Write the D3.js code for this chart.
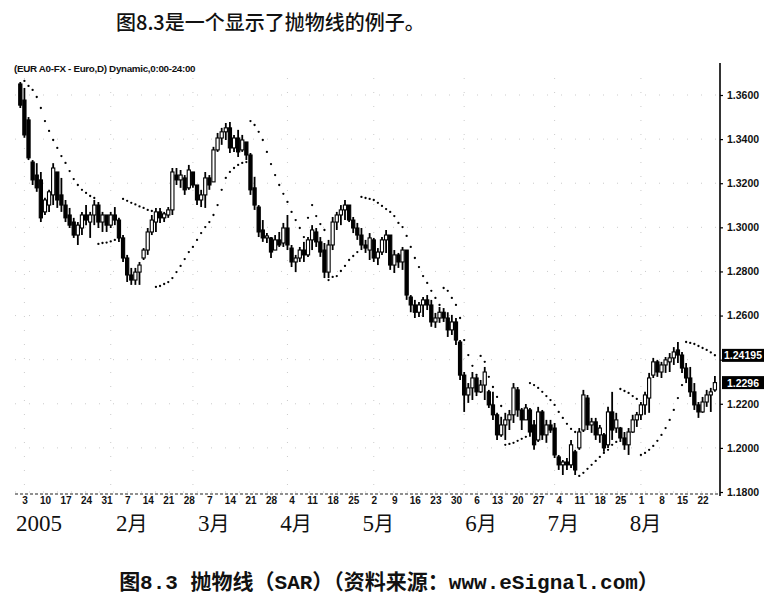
<!DOCTYPE html>
<html><head><meta charset="utf-8">
<script src="https://cdn.jsdelivr.net/npm/d3@7"></script>
<style>body{margin:0;background:#fff}</style>
</head><body><svg id="c" width="781" height="606"></svg>
<script>
// ---------------- data ----------------
const startDate = "2004-12-31";
const high = [1.3659,1.3632,1.3500,1.3305,1.3291,1.3251,1.3134,1.3170,1.3291,1.3251,
1.3224,1.3124,1.3088,1.3043,1.3024,1.3070,1.3101,1.3070,1.3124,1.3115,
1.3070,1.3056,1.3070,1.3092,1.3043,1.2965,1.2875,1.2816,1.2816,1.2843,
1.2906,1.2997,1.3056,1.3088,1.3088,1.3070,1.3092,1.3269,1.3269,1.3260,
1.3237,1.3283,1.3251,1.3192,1.3170,1.3251,1.3237,1.3365,1.3428,1.3451,
1.3473,1.3478,1.3419,1.3442,1.3419,1.3387,1.3337,1.3229,1.3101,1.3033,
1.2974,1.2956,1.2965,1.2979,1.3020,1.3056,1.2920,1.2875,1.2911,1.2934,
1.2956,1.3010,1.2997,1.2956,1.2929,1.2943,1.3047,1.3070,1.3101,1.3124,
1.3101,1.3047,1.3020,1.2997,1.2943,1.2974,1.2952,1.2906,1.2956,1.2988,
1.2965,1.2897,1.2884,1.2911,1.2897,1.2693,1.2671,1.2662,1.2684,1.2693,
1.2671,1.2612,1.2639,1.2634,1.2615,1.2603,1.2589,1.2489,1.2344,1.2294,
1.2344,1.2326,1.2308,1.2367,1.2263,1.2254,1.2159,1.2141,1.2159,1.2172,
1.2294,1.2276,1.2181,1.2199,1.2181,1.2127,1.2186,1.2172,1.2127,1.2127,
1.2113,1.1968,1.1945,1.1954,1.2036,1.1991,1.2090,1.2263,1.2240,1.2136,
1.2136,1.2104,1.2068,1.2186,1.2254,1.2159,1.2095,1.2072,1.2090,1.2150,
1.2163,1.2208,1.2254,1.2340,1.2408,1.2399,1.2390,1.2412,1.2430,1.2457,
1.2480,1.2435,1.2385,1.2367,1.2294,1.2208,1.2231,1.2263,1.2272,1.2326];
const low = [1.3541,1.3406,1.3305,1.3192,1.3161,1.3024,1.3056,1.3070,1.3101,1.3088,
1.3070,1.3024,1.2997,1.2952,1.2920,1.2965,1.3010,1.2952,1.3010,1.2997,
1.2979,1.2979,1.2997,1.3010,1.2934,1.2843,1.2752,1.2739,1.2739,1.2739,
1.2852,1.2875,1.2965,1.2979,1.3020,1.3024,1.3043,1.3056,1.3192,1.3179,
1.3147,1.3170,1.3179,1.3101,1.3092,1.3088,1.3170,1.3206,1.3342,1.3374,
1.3396,1.3337,1.3342,1.3319,1.3342,1.3305,1.3147,1.3079,1.2956,1.2934,
1.2929,1.2861,1.2897,1.2911,1.2911,1.2897,1.2820,1.2797,1.2843,1.2843,
1.2866,1.2897,1.2911,1.2866,1.2770,1.2770,1.2897,1.2988,1.3010,1.3033,
1.3024,1.2974,1.2943,1.2897,1.2884,1.2852,1.2843,1.2829,1.2875,1.2884,
1.2807,1.2793,1.2816,1.2807,1.2671,1.2615,1.2589,1.2594,1.2594,1.2625,
1.2549,1.2544,1.2567,1.2571,1.2503,1.2512,1.2467,1.2308,1.2163,1.2204,
1.2217,1.2235,1.2249,1.2217,1.2181,1.2127,1.2036,1.2050,1.2036,1.2081,
1.2113,1.2141,1.2081,1.2127,1.2050,1.1991,1.2027,1.2036,1.2023,1.2068,
1.1954,1.1900,1.1877,1.1900,1.1909,1.1877,1.1991,1.2072,1.2081,1.2068,
1.2036,1.2023,1.1982,1.2000,1.2036,1.2068,1.2027,1.1991,1.1968,1.2068,
1.2095,1.2127,1.2150,1.2159,1.2317,1.2322,1.2317,1.2340,1.2344,1.2376,
1.2385,1.2340,1.2294,1.2231,1.2172,1.2136,1.2159,1.2186,1.2163,1.2254];
const open = [1.3650,1.3577,1.3487,1.3296,1.3237,1.3215,1.3070,1.3101,1.3147,1.3251,
1.3147,1.3101,1.3056,1.3024,1.2965,1.2997,1.3056,1.3024,1.3056,1.3101,
1.3024,1.3056,1.3010,1.3056,1.3033,1.2952,1.2861,1.2784,1.2761,1.2797,
1.2861,1.2897,1.2979,1.3024,1.3070,1.3043,1.3056,1.3079,1.3237,1.3215,
1.3224,1.3179,1.3251,1.3192,1.3124,1.3147,1.3224,1.3206,1.3351,1.3405,
1.3433,1.3451,1.3360,1.3405,1.3351,1.3387,1.3328,1.3179,1.3092,1.2988,
1.2952,1.2952,1.2897,1.2943,1.2929,1.2997,1.2906,1.2843,1.2861,1.2897,
1.2875,1.2943,1.2979,1.2934,1.2897,1.2797,1.2920,1.3024,1.3056,1.3079,
1.3101,1.3033,1.2997,1.2965,1.2920,1.2897,1.2943,1.2861,1.2888,1.2943,
1.2965,1.2829,1.2875,1.2843,1.2897,1.2684,1.2648,1.2615,1.2648,1.2671,
1.2648,1.2571,1.2589,1.2615,1.2589,1.2535,1.2571,1.2480,1.2330,1.2240,
1.2272,1.2317,1.2254,1.2285,1.2254,1.2195,1.2150,1.2059,1.2104,1.2127,
1.2150,1.2263,1.2172,1.2127,1.2172,1.2104,1.2036,1.2163,1.2059,1.2104,
1.2090,1.1959,1.1923,1.1936,1.1923,1.1982,1.2000,1.2081,1.2226,1.2104,
1.2118,1.2059,1.2059,1.2014,1.2163,1.2090,1.2090,1.2045,1.2014,1.2072,
1.2127,1.2150,1.2195,1.2226,1.2330,1.2390,1.2344,1.2376,1.2390,1.2408,
1.2444,1.2421,1.2362,1.2317,1.2254,1.2195,1.2163,1.2208,1.2240,1.2263];
const close = [1.3554,1.3419,1.3315,1.3215,1.3179,1.3043,1.3124,1.3161,1.3269,1.3124,
1.3101,1.3043,1.3010,1.2965,1.3010,1.3056,1.3033,1.3056,1.3101,1.3024,
1.3056,1.3010,1.3056,1.3033,1.2952,1.2861,1.2784,1.2761,1.2797,1.2829,
1.2897,1.2979,1.3033,1.3070,1.3043,1.3061,1.3079,1.3251,1.3215,1.3237,
1.3170,1.3260,1.3192,1.3124,1.3147,1.3224,1.3192,1.3351,1.3405,1.3433,
1.3451,1.3360,1.3405,1.3342,1.3396,1.3328,1.3170,1.3101,1.2979,1.2952,
1.2961,1.2888,1.2943,1.2920,1.2997,1.2920,1.2843,1.2861,1.2897,1.2875,
1.2943,1.2988,1.2934,1.2888,1.2797,1.2920,1.3024,1.3056,1.3079,1.3101,
1.3033,1.2997,1.2965,1.2920,1.2906,1.2952,1.2861,1.2888,1.2943,1.2965,
1.2829,1.2875,1.2843,1.2897,1.2693,1.2648,1.2615,1.2648,1.2671,1.2648,
1.2571,1.2589,1.2615,1.2589,1.2535,1.2571,1.2489,1.2330,1.2240,1.2272,
1.2317,1.2254,1.2285,1.2344,1.2195,1.2150,1.2059,1.2104,1.2127,1.2150,
1.2272,1.2172,1.2127,1.2181,1.2072,1.2014,1.2163,1.2059,1.2104,1.2081,
1.1968,1.1923,1.1936,1.1923,1.2014,1.1900,1.2072,1.2240,1.2104,1.2118,
1.2059,1.2090,1.2000,1.2163,1.2081,1.2127,1.2045,1.2014,1.2072,1.2127,
1.2150,1.2195,1.2240,1.2317,1.2390,1.2344,1.2376,1.2399,1.2408,1.2435,
1.2421,1.2362,1.2317,1.2254,1.2195,1.2163,1.2208,1.2240,1.2254,1.2296];
const sar = [null,1.3664,1.3641,1.3623,1.3591,1.3541,1.3482,1.3437,1.3396,1.3360,
1.3323,1.3292,1.3255,1.3219,1.3192,1.3170,1.3156,1.3142,1.3133,1.2925,
1.2929,1.2931,1.2936,1.2943,1.2952,1.3129,1.3120,1.3111,1.3104,1.3095,
1.3088,1.3079,1.3074,1.2730,1.2734,1.2743,1.2752,1.2770,1.2797,1.2825,
1.2856,1.2888,1.2911,1.2943,1.2974,1.3001,1.3024,1.3056,1.3101,1.3170,
1.3224,1.3251,1.3269,1.3283,1.3292,1.3296,1.3482,1.3464,1.3433,1.3396,
1.3342,1.3287,1.3237,1.3192,1.3152,1.3115,1.3070,1.3033,1.2997,1.2956,
1.3043,1.3101,1.3051,1.3015,1.2988,1.2761,1.2775,1.2779,1.2802,1.2825,
1.2852,1.2870,1.2888,1.3138,1.3133,1.3129,1.3124,1.3111,1.3097,1.3083,
1.3070,1.3051,1.3020,1.3001,1.2961,1.2911,1.2861,1.2820,1.2779,1.2748,
1.2712,1.2680,1.2648,1.2725,1.2712,1.2680,1.2648,1.2589,1.2489,1.2421,
1.2372,1.2331,1.2417,1.2390,1.2322,1.2276,1.2231,1.2190,1.2014,1.2018,
1.2023,1.2032,1.2041,1.2050,1.2294,1.2285,1.2272,1.2254,1.2235,1.2217,
1.2195,1.2163,1.2136,1.2109,1.2086,1.2072,1.1873,1.1887,1.1905,1.1923,
1.1941,1.1959,1.1977,1.1991,1.2014,1.2027,1.2267,1.2258,1.2249,1.2235,
1.2222,1.1968,1.1977,1.1991,1.2009,1.2032,1.2059,1.2090,1.2127,1.2172,
1.2226,1.2285,1.2480,1.2476,1.2471,1.2462,1.2453,1.2444,1.2433,1.2420];

const dayTickDates = ["2005-01-03","2005-01-10","2005-01-17","2005-01-24","2005-01-31",
"2005-02-07","2005-02-14","2005-02-21","2005-02-28","2005-03-07","2005-03-14","2005-03-21","2005-03-28",
"2005-04-04","2005-04-11","2005-04-18","2005-04-25","2005-05-02","2005-05-09","2005-05-16","2005-05-23","2005-05-30",
"2005-06-06","2005-06-13","2005-06-20","2005-06-27","2005-07-04","2005-07-11","2005-07-18","2005-07-25",
"2005-08-01","2005-08-08","2005-08-15","2005-08-22"];
const dayTickLabels = ["3","10","17","24","31","7","14","21","28","7","14","21","28",
"4","11","18","25","2","9","16","23","30","6","13","20","27","4","11","18","25","1","8","15","22"];
const monthTickDates = ["2005-01-03","2005-02-07","2005-03-07","2005-04-04","2005-05-02","2005-06-06","2005-07-04","2005-08-01"];
const monthTickLabels = ["2005","2月","3月","4月","5月","6月","7月","8月"];
const priceTicks = [1.18,1.20,1.22,1.24,1.26,1.28,1.30,1.32,1.34,1.36];
const sarLabel = "1.24195", sarLabelValue = 1.24195;
const closeLabel = "1.2296";

const titleText = "图8.3是一个显示了抛物线的例子。";
const headerText = "(EUR A0-FX - Euro,D) Dynamic,0:00-24:00";
const captionText = "图8.3 抛物线（SAR）（资料来源：www.eSignal.com）";

// ---------------- build ----------------
const parse = d3.utcParse("%Y-%m-%d"), fmt = d3.utcFormat("%Y-%m-%d");
const n = high.length;
const dates = [];
let d = parse(startDate);
while (dates.length < n) {
  const wd = d.getUTCDay();
  if (wd !== 0 && wd !== 6) dates.push(new Date(d));
  d = d3.utcDay.offset(d, 1);
}
const idxOf = s => dates.findIndex(t => fmt(t) === s);
const bars = d3.range(n).map(i => ({i, o: open[i], h: high[i], l: low[i], c: close[i], s: sar[i]}));

const svg = d3.select("#c");
const x = d3.scaleLinear().domain([0, n - 1]).range([20.3, 714.9]);
const y = d3.scaleLinear().domain([1.18, 1.36]).range([492, 95]);
const latin = "'Liberation Mono','Noto Sans CJK SC'";

// title
svg.append("text").attr("x", 116).attr("y", 30).attr("font-family", "'Noto Sans CJK SC'")
  .attr("font-size", 20).attr("font-weight", 500).attr("fill", "#111").text(titleText);

// header
svg.append("text").attr("x", 14).attr("y", 72).attr("font-family", "'Liberation Sans',Arial")
  .attr("font-size", 9.8).attr("font-weight", "bold").attr("letter-spacing", -0.3).attr("fill", "#111").text(headerText);

// faint dotted grid
const monthStarts = d3.range(1, n).filter(i => dates[i].getUTCMonth() !== dates[i - 1].getUTCMonth());
svg.append("g").selectAll("line").data(priceTicks).join("line")
  .attr("x1", 15).attr("x2", 718).attr("y1", v => y(v)).attr("y2", v => y(v))
  .attr("stroke", "#aaa").attr("stroke-width", 1).attr("stroke-dasharray", "1,13").attr("opacity", 0.6);
svg.append("g").selectAll("line").data(monthStarts).join("line")
  .attr("x1", i => x(i)).attr("x2", i => x(i)).attr("y1", 78).attr("y2", 492)
  .attr("stroke", "#aaa").attr("stroke-width", 1).attr("stroke-dasharray", "1,13").attr("opacity", 0.6);

// value tags (drawn over the axis; a label hidden by a tag is not shown)
const tags = [{v: sarLabelValue, t: sarLabel}, {v: close[n - 1], t: closeLabel}];
const hidden = v => tags.some(t => Math.abs(y(t.v) - y(v)) < 12);

// right price axis
const yAxis = d3.axisRight(y).tickValues(priceTicks)
  .tickFormat(v => hidden(v) ? "" : d3.format(".4f")(v)).tickSize(3).tickPadding(4);
const ga = svg.append("g").attr("transform", "translate(720,0)").call(yAxis);
ga.select(".domain").remove();
ga.selectAll("line").attr("stroke", "#000").attr("stroke-width", 1.2);
ga.selectAll("text").attr("font-family", "'Liberation Sans',Arial").attr("font-size", 10.5)
  .attr("font-weight", "bold").attr("fill", "#111");
svg.append("line").attr("x1", 720).attr("x2", 720).attr("y1", 63).attr("y2", 496)
  .attr("stroke", "#000").attr("stroke-width", 1.6);

// bottom dashed baseline
svg.append("line").attr("x1", 15).attr("x2", 718).attr("y1", 494).attr("y2", 494)
  .attr("stroke", "#222").attr("stroke-width", 1.1).attr("stroke-dasharray", "3,2");

// day ticks
const dayIdx = dayTickDates.map(idxOf);
const xAxisDays = d3.axisBottom(x).tickValues(dayIdx).tickFormat((v, k) => dayTickLabels[k]).tickSize(0).tickPadding(3);
const gd = svg.append("g").attr("transform", "translate(0,494)").call(xAxisDays);
gd.select(".domain").remove();
gd.selectAll("text").attr("font-family", "'Liberation Sans',Arial").attr("font-size", 10)
  .attr("font-weight", "bold").attr("fill", "#111");

// month labels
const monIdx = monthTickDates.map(idxOf);
const xAxisMon = d3.axisBottom(x).tickValues(monIdx).tickFormat((v, k) => monthTickLabels[k]).tickSize(0).tickPadding(0);
const gm = svg.append("g").attr("transform", "translate(0,0)").call(xAxisMon);
gm.select(".domain").remove();
gm.selectAll(".tick").each(function (v, k) {
  const t = d3.select(this).select("text");
  const lab = monthTickLabels[k];
  t.text(null).attr("y", 531).attr("dy", null).attr("fill", "#111")
    .attr("text-anchor", k === 0 ? "start" : "middle").attr("x", k === 0 ? -9 : 4);
  const num = lab.replace("月", "");
  t.append("tspan").attr("font-family", "'Liberation Serif','Times New Roman'").attr("font-size", 23).text(num);
  if (lab.includes("月")) t.append("tspan").attr("font-family", "'Noto Sans CJK SC'").attr("font-size", 20).text("月");
});

// candles
const gb = svg.append("g");
gb.selectAll("line").data(bars).join("line")
  .attr("x1", b => x(b.i)).attr("x2", b => x(b.i)).attr("y1", b => y(b.h)).attr("y2", b => y(b.l))
  .attr("stroke", "#000").attr("stroke-width", 1.8);
gb.selectAll("rect").data(bars).join("rect")
  .attr("x", b => x(b.i) - 1.6).attr("width", 3.2)
  .attr("y", b => y(Math.max(b.o, b.c))).attr("height", b => Math.max(1, Math.abs(y(b.o) - y(b.c))))
  .attr("fill", b => b.c >= b.o ? "#fff" : "#000").attr("stroke", "#000").attr("stroke-width", 1.1);

// SAR dots
svg.append("g").selectAll("circle").data(bars.filter(b => b.s != null)).join("circle")
  .attr("cx", b => x(b.i)).attr("cy", b => y(b.s)).attr("r", 1.15).attr("fill", "#000");

// tags
const gt = svg.append("g").selectAll("g").data(tags).join("g")
  .attr("transform", t => `translate(722,${y(t.v)})`);
gt.append("rect").attr("x", 0).attr("y", -6.5).attr("width", 42).attr("height", 13).attr("fill", "#000");
gt.append("text").attr("x", 21).attr("y", 4).attr("text-anchor", "middle").attr("fill", "#fff")
  .attr("font-family", "'Liberation Sans',Arial").attr("font-size", 10.5).attr("font-weight", "bold").text(t => t.t);

// caption
svg.append("text").attr("x", 389).attr("y", 589).attr("text-anchor", "middle")
  .attr("font-family", latin).attr("font-size", 21).attr("font-weight", "bold").attr("fill", "#111").text(captionText);
</script>
</body></html>
